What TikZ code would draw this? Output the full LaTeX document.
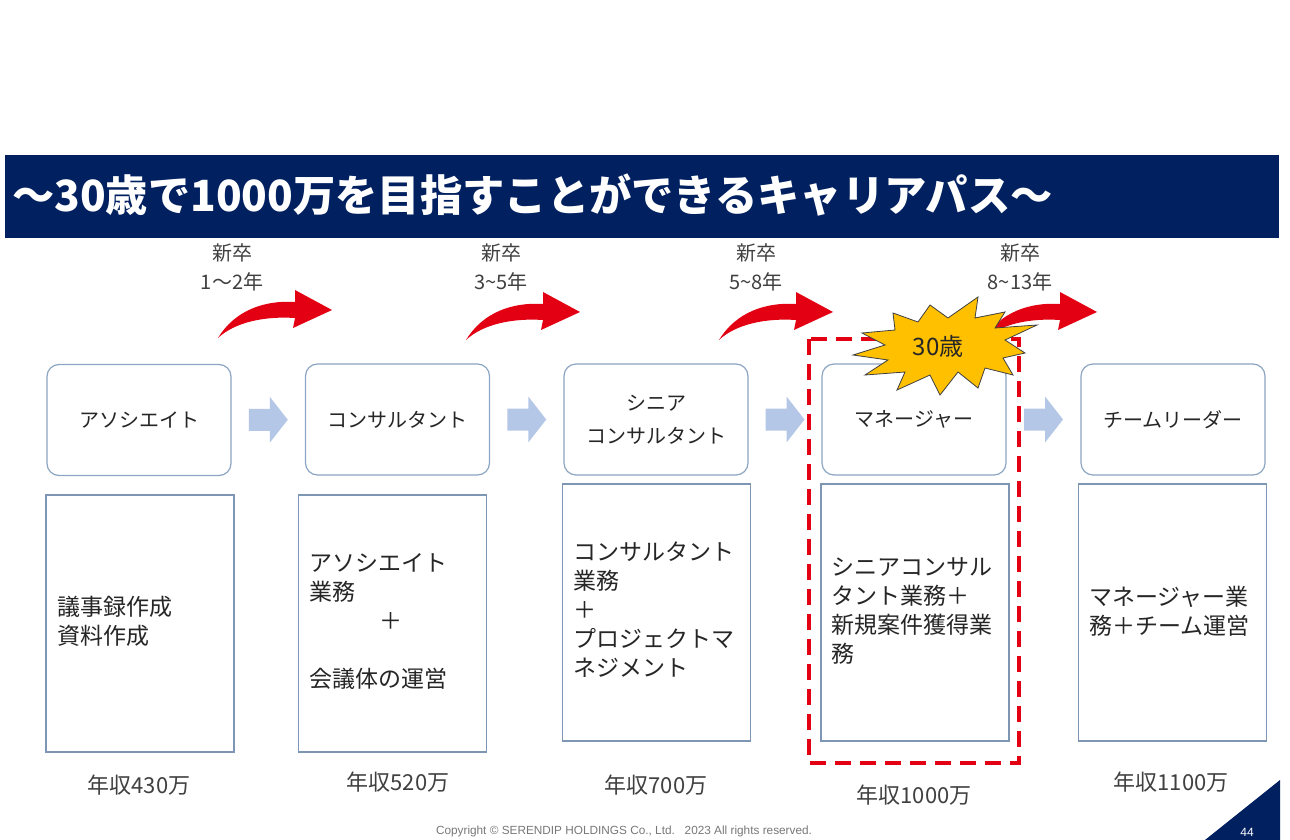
\documentclass[tikz,border=0pt]{standalone}
\usepackage{fontspec}
\setmainfont{Noto Sans CJK JP}
\newfontfamily\arialf{Liberation Sans}
\usetikzlibrary{calc}
\definecolor{navy}{RGB}{0,32,96}
\definecolor{redc}{RGB}{226,0,18}
\definecolor{boxline}{RGB}{140,165,195}
\definecolor{rectline}{RGB}{125,150,180}
\definecolor{lblue}{RGB}{180,199,231}
\definecolor{gold}{RGB}{255,192,0}
\definecolor{txt}{RGB}{38,38,38}
\definecolor{gtxt}{RGB}{64,64,64}
\definecolor{copyc}{RGB}{120,120,120}
\tikzset{
  topbox/.style={draw=boxline, line width=1.2pt, rounded corners=12pt, fill=white,
    minimum width=184pt, minimum height=111pt, inner sep=0pt,
    font=\fontsize{20}{33}\selectfont, text=txt, align=center},
  rectbox/.style={draw=rectline, line width=1.2pt, fill=white, inner sep=0pt,
    minimum width=188pt, minimum height=257pt},
  recttext/.style={anchor=west, inner sep=0pt, align=left, text=txt,
    font=\fontsize{23}{29}\selectfont},
  yearlbl/.style={align=center, inner sep=0pt, text=gtxt, font=\fontsize{20}{29}\selectfont},
  salary/.style={inner sep=0pt, text=gtxt, font=\fontsize{22}{24}\selectfont},
  blockarr/.pic={\fill[lblue] (-19.5,-11) -- (1.5,-11) -- (1.5,-23) -- (19.5,0) -- (1.5,23) -- (1.5,11) -- (-19.5,11) -- cycle;},
  redarr/.pic={\fill[redc] (0,0) .. controls (17,-28) and (47,-38) .. (77,-36) -- (77,-48) -- (114,-28) -- (75,-10) -- (77,-20) .. controls (47,-22) and (17,-16) .. (0,0) -- cycle;}
}
\begin{document}
\begin{tikzpicture}[x=1pt,y=-1pt]
\useasboundingbox (0,0) rectangle (1290,840);
\fill[white] (0,0) rectangle (1290,840);
% title band
\fill[navy] (5,155) rectangle (1279,238);
\node[anchor=west, text=white, inner sep=0pt, font=\fontsize{43}{43}\selectfont\bfseries] (title) at (12,195) {\scalebox{0.983}[1]{～30歳で1000万を目指すことができるキャリアパス～}};

% top boxes
\node[topbox] (b1) at (139,420) {アソシエイト};
\node[topbox] (b2) at (397.5,419.5) {コンサルタント};
\node[topbox] (b3) at (656,419.5) {シニア\\コンサルタント};
\node[topbox] (b4) at (914,419.5) {マネージャー};
\node[topbox] (b5) at (1173,419.5) {チームリーダー};

% block arrows
\path ($(b1.east)!0.5!(b2.west)$) pic {blockarr};
\path ($(b2.east)!0.5!(b3.west)$) pic {blockarr};
\path ($(b3.east)!0.5!(b4.west)$) pic {blockarr};
\path ($(b4.east)!0.5!(b5.west)$) pic {blockarr};

% lower rectangles
\node[rectbox] (r1) at (140,623.5) {};
\node[rectbox] (r2) at (392.5,623.5) {};
\node[rectbox] (r3) at (656.5,612.5) {};
\node[rectbox] (r4) at (915,612.5) {};
\node[rectbox] (r5) at (1172.5,612.5) {};

\node[recttext] (t1) at (57,621.5) {議事録作成\\資料作成};
\node[recttext] (t2) at (309,621.5) {アソシエイト\\業務\\\hspace*{70pt}＋\\[29pt]会議体の運営};
\node[recttext] (t3) at (573,610) {コンサルタント\\業務\\＋\\プロジェクトマ\\ネジメント};
\node[recttext] (t4) at (831,610.5) {シニアコンサル\\タント業務＋\\新規案件獲得業\\務};
\node[recttext] (t5) at (1089,611.5) {マネージャー業\\務＋チーム運営};

% salaries
\node[salary] (s1) at (139,785) {年収430万};
\node[salary] (s2) at (398,782) {年収520万};
\node[salary] (s3) at (656,785) {年収700万};
\node[salary] (s4) at (914,795) {年収1000万};
\node[salary] (s5) at (1171,782) {年収1100万};

% dashed highlight
\draw[redc, line width=3.5pt, dash pattern=on 16pt off 9pt] (809,339) rectangle (1019,763);

% year labels
\node[yearlbl] (y1) at (232,267) {新卒\\1～2年};
\node[yearlbl] (y2) at (501,267) {新卒\\3\textasciitilde5年};
\node[yearlbl] (y3) at (756,267) {新卒\\5\textasciitilde8年};
\node[yearlbl] (y4) at (1020,267) {新卒\\8\textasciitilde13年};

% red curved arrows
\path (218,338) pic {redarr};
\path (466,340) pic {redarr};
\path (719,340) pic {redarr};
\path (983,340) pic {redarr};

% starburst
\filldraw[fill=gold, draw=black!75, line width=0.8pt]
 (853,355) -- (885,345) -- (862,333) -- (895,330) -- (893,313) -- (918,322) -- (930,305) -- (948,318) -- (978,297) -- (975,318) -- (1005,312) -- (995,328) -- (1037,325) -- (1005,340) -- (1025,353) -- (1003,358) -- (1013,375) -- (985,368) -- (978,388) -- (958,372) -- (940,395) -- (930,375) -- (897,390) -- (905,372) -- (865,375) -- (888,360) -- cycle;
\node[inner sep=0pt, text=txt, font=\fontsize{24}{24}\selectfont] (age) at (938,346) {30歳};

% footer
\node[inner sep=0pt, text=copyc, font=\arialf\fontsize{11.8}{13}\selectfont] (copy) at (624,831) {Copyright © SERENDIP HOLDINGS Co., Ltd.\ \ \ 2023 All rights reserved.};
\fill[navy] (1205,840) -- (1280,780) -- (1280,840) -- cycle;
\node[inner sep=0pt, text=white, font=\arialf\fontsize{12}{12}\selectfont] (page) at (1247,832) {44};
\end{tikzpicture}
\end{document}
